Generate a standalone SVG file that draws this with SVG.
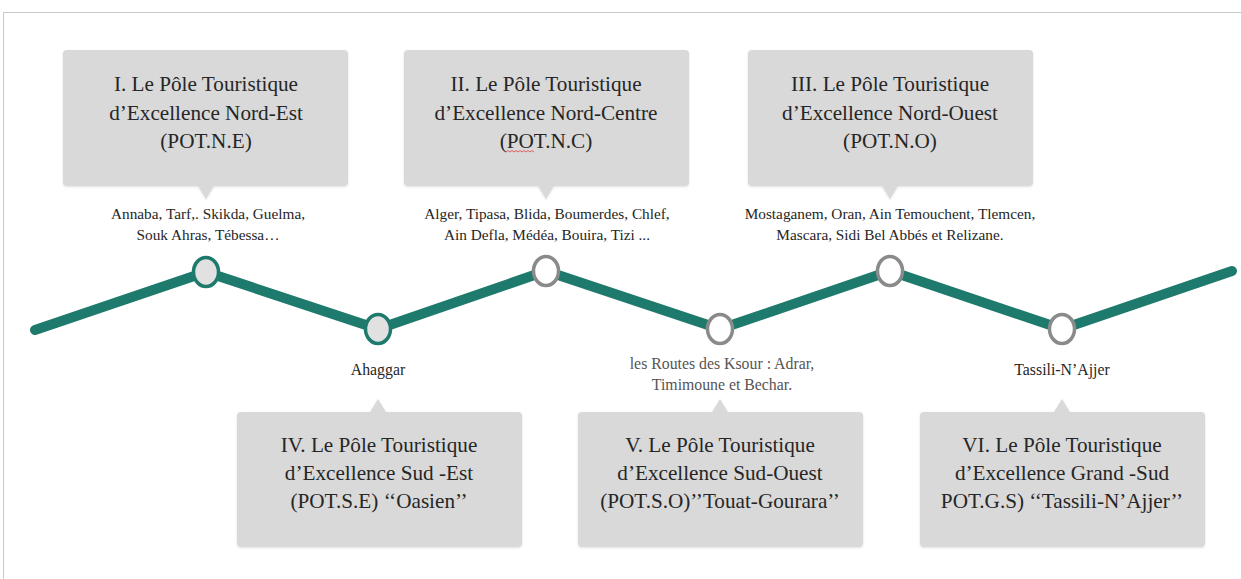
<svg xmlns="http://www.w3.org/2000/svg" width="1241" height="579" viewBox="0 0 1241 579">
<defs>
<style>
.box{fill:#d9d9d9}
.ttl{font-family:"Liberation Serif","Times New Roman",serif;font-size:21.2px;fill:#262626;text-anchor:middle}
.sm{font-family:"Liberation Serif","Times New Roman",serif;font-size:15.3px;fill:#262626;text-anchor:middle}
.md{font-size:15.8px}
.gr{fill:#555}
.trk{fill:none;stroke:#1e7a6c;stroke-width:10;stroke-linecap:round;stroke-linejoin:round}
.na{fill:#e1e1e1;stroke:#1e7a6c;stroke-width:3.5}
.nb{fill:#ffffff;stroke:#8a8a8a;stroke-width:3.5}
</style>
<filter id="sh" x="-5%" y="-5%" width="110%" height="115%">
<feDropShadow dx="0" dy="1" stdDeviation="1" flood-color="#000" flood-opacity="0.12"/>
</filter>
</defs>
<rect width="1241" height="579" fill="#ffffff"/>
<path d="M3.5,579 V12.5 H1241" fill="none" stroke="#c8c8c8" stroke-width="1"/>

<g id="connectors">
<polyline class="trk" points="35,330 206,272 378,329 546,271 720,329 890,271 1062,329 1232,271"/>
</g>

<g id="node-I">
<path class="box" filter="url(#sh)" d="M67,50 H344 Q348,50 348,54 V182 Q348,186 344,186 H214 L206,199 L198,186 H67 Q63,186 63,182 V54 Q63,50 67,50 Z"/>
<text class="ttl" x="206" y="91">I. Le Pôle Touristique</text>
<text class="ttl" x="206" y="120">d’Excellence Nord-Est</text>
<text class="ttl" x="206" y="148">(POT.N.E)</text>
<text class="sm" x="208" y="219">Annaba, Tarf,. Skikda, Guelma,</text>
<text class="sm" x="208" y="240">Souk Ahras, Tébessa…</text>
<ellipse class="na" cx="206" cy="272" rx="12.5" ry="14.5"/>
</g>

<g id="node-II">
<path class="box" filter="url(#sh)" d="M408,50 H685 Q689,50 689,54 V182 Q689,186 685,186 H554 L546,199 L538,186 H408 Q404,186 404,182 V54 Q404,50 408,50 Z"/>
<text class="ttl" x="546" y="91">II. Le Pôle Touristique</text>
<text class="ttl" x="546" y="120">d’Excellence Nord-Centre</text>
<text class="ttl" x="546" y="148">(POT.N.C)</text>
<path d="M506,152 l2,-1.5 l2,1.5 l2,-1.5 l2,1.5 l2,-1.5 l2,1.5 l2,-1.5 l2,1.5 l2,-1.5 l2,1.5 l2,-1.5 l2,1.5 l2,-1.5 l2,1.5" fill="none" stroke="#e04040" stroke-width="0.8"/>
<text class="sm" x="547" y="219">Alger, Tipasa, Blida, Boumerdes, Chlef,</text>
<text class="sm" x="547" y="240">Ain Defla, Médéa, Bouira, Tizi ...</text>
<ellipse class="nb" cx="546" cy="271" rx="12.5" ry="14.5"/>
</g>

<g id="node-III">
<path class="box" filter="url(#sh)" d="M752,50 H1029 Q1033,50 1033,54 V182 Q1033,186 1029,186 H898 L890,199 L882,186 H752 Q748,186 748,182 V54 Q748,50 752,50 Z"/>
<text class="ttl" x="890" y="91">III. Le Pôle Touristique</text>
<text class="ttl" x="890" y="120">d’Excellence Nord-Ouest</text>
<text class="ttl" x="890" y="148">(POT.N.O)</text>
<text class="sm" x="890" y="219">Mostaganem, Oran, Ain Temouchent, Tlemcen,</text>
<text class="sm" x="890" y="240">Mascara, Sidi Bel Abbés et Relizane.</text>
<ellipse class="nb" cx="890" cy="271" rx="12.5" ry="14.5"/>
</g>

<g id="node-IV">
<ellipse class="na" cx="378" cy="329" rx="12.5" ry="14.5"/>
<text class="sm md" x="378" y="375">Ahaggar</text>
<path class="box" filter="url(#sh)" d="M241,412 H370 L378,399 L386,412 H518 Q522,412 522,416 V543 Q522,547 518,547 H241 Q237,547 237,543 V416 Q237,412 241,412 Z"/>
<text class="ttl" x="379" y="452">IV. Le Pôle Touristique</text>
<text class="ttl" x="379" y="480">d’Excellence Sud -Est</text>
<text class="ttl" x="379" y="508">(POT.S.E) ‘‘Oasien’’</text>
</g>

<g id="node-V">
<ellipse class="nb" cx="720" cy="329" rx="12.5" ry="14.5"/>
<text class="sm md gr" x="722" y="369">les Routes des Ksour : Adrar,</text>
<text class="sm md gr" x="722" y="390">Timimoune et Bechar.</text>
<path class="box" filter="url(#sh)" d="M582,412 H712 L720,399 L728,412 H859 Q863,412 863,416 V543 Q863,547 859,547 H582 Q578,547 578,543 V416 Q578,412 582,412 Z"/>
<text class="ttl" x="720" y="452">V. Le Pôle Touristique</text>
<text class="ttl" x="720" y="480">d’Excellence Sud-Ouest</text>
<text class="ttl" x="720" y="508">(POT.S.O)’’Touat-Gourara’’</text>
</g>

<g id="node-VI">
<ellipse class="nb" cx="1062" cy="329" rx="12.5" ry="14.5"/>
<text class="sm md" x="1062" y="375">Tassili-N’Ajjer</text>
<path class="box" filter="url(#sh)" d="M924,412 H1054 L1062,399 L1070,412 H1201 Q1205,412 1205,416 V543 Q1205,547 1201,547 H924 Q920,547 920,543 V416 Q920,412 924,412 Z"/>
<text class="ttl" x="1062" y="452">VI. Le Pôle Touristique</text>
<text class="ttl" x="1062" y="480">d’Excellence Grand -Sud</text>
<text class="ttl" x="1062" y="508">POT.G.S) ‘‘Tassili-N’Ajjer’’</text>
</g>
</svg>
